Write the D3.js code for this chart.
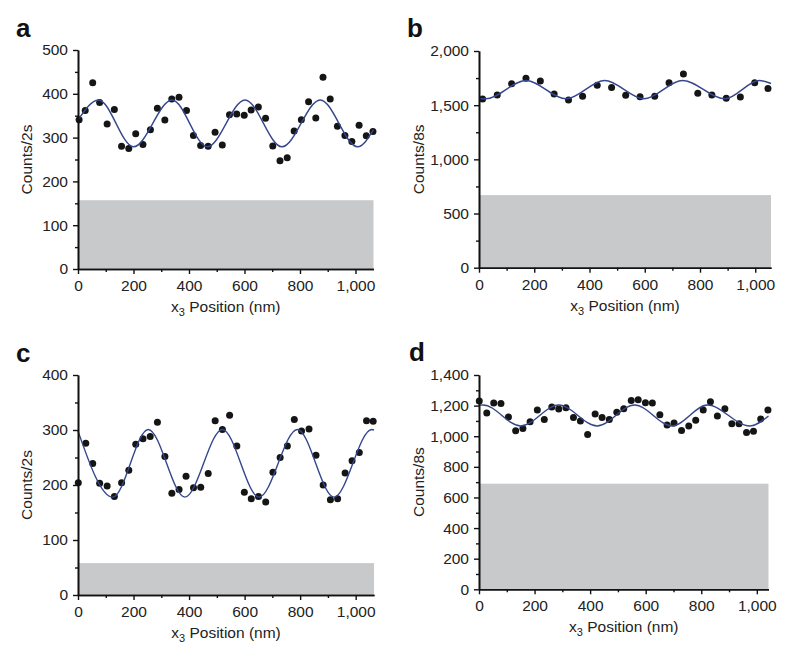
<!DOCTYPE html>
<html>
<head>
<meta charset="utf-8">
<script src="https://cdn.jsdelivr.net/npm/d3@7"></script>
<style>
  html, body { margin: 0; padding: 0; background: #fff; }
  svg { display: block; font-family: "Liberation Sans", Arial, Helvetica, sans-serif; }
</style>
</head>
<body>
<svg id="chart" width="803" height="660"></svg>
<script>
// ---------- Data ----------
// Panel a
const xA = [4,26,53,78,105,131,157,183,208,234,261,286,313,338,364,391,416,442,469,494,520,546,572,599,624,650,676,702,728,754,779,805,831,857,883,909,935,962,987,1013,1039,1063];
const yA = [341,362,425,380,331,364,280,275,309,284,318,367,340,388,392,362,305,282,280,312,283,352,354,351,363,370,344,281,247,254,315,341,382,345,438,388,326,305,291,328,304,314];
const fitAx = [0,74,200,339,466,602,735,873,1008,1065];
const fitAy = [340,386,279,386,279,386,279,386,279,318];
const yTicksA = [0,100,200,300,400,500];
const bandA = 157;

// Panel b
const xB = [13,66,118,170,222,272,324,375,428,480,531,583,636,688,740,792,843,895,946,998,1046];
const yB = [1557,1594,1698,1748,1723,1603,1548,1582,1683,1662,1591,1578,1582,1708,1788,1609,1594,1563,1575,1708,1655];
const fitBx = [0,25,170,315,455,597,737,890,1015,1057];
const fitBy = [1562,1559,1728,1559,1728,1559,1728,1559,1728,1700];
const yTicksB = [0,500,1000,1500,2000];
const bandB = 670;

// Panel c
const xC = [1,28,53,78,105,131,157,183,208,234,260,286,313,338,364,389,416,442,469,494,520,546,572,599,624,650,676,702,728,754,779,805,832,857,883,909,935,962,987,1013,1039,1063];
const yC = [204,276,239,203,198,179,204,227,274,284,288,314,252,185,192,216,195,196,221,317,301,327,271,187,175,179,169,223,250,271,319,298,302,254,200,173,175,222,244,259,317,316];
const fitCx = [0,125,253,385,520,652,790,922,1058,1066];
const fitCy = [298,178,301,178,301,178,301,178,301,300];
const yTicksC = [0,100,200,300,400];
const bandC = 58;

// Panel d
const xD = [1,28,53,79,106,132,158,184,210,235,262,287,313,340,365,391,418,443,469,496,521,548,573,599,624,651,677,702,729,755,780,807,833,858,885,910,936,963,988,1014,1040];
const yD = [1230,1152,1217,1213,1126,1036,1051,1095,1171,1110,1191,1178,1186,1123,1099,1012,1145,1123,1110,1156,1180,1234,1239,1219,1217,1141,1073,1086,1038,1067,1104,1171,1226,1132,1180,1082,1082,1025,1032,1112,1171];
const fitDx = [0,15,150,287,425,560,695,822,975,1042];
const fitDy = [1203,1204,1067,1204,1067,1204,1067,1204,1067,1132];
const yTicksD = [0,200,400,600,800,1000,1200,1400];
const bandD = 690;

const xTicks = [0,200,400,600,800,1000];
const xMinorTicks = [100,300,500,700,900];

// ---------- Layout ----------
const panels = [
  { letter:'a', xs:xA, ys:yA, fx:fitAx, fy:fitAy, ticks:yTicksA, minor:d3.range(50,500,100), band:bandA, ylab:'Counts/2s',
    xMax:1065, left:78, right:373.5, top:50, bottom:269, ylabX:32, lx:16, ly:37 },
  { letter:'b', xs:xB, ys:yB, fx:fitBx, fy:fitBy, ticks:yTicksB, minor:d3.range(250,2000,500), band:bandB, ylab:'Counts/8s',
    xMax:1057, left:479, right:771, top:51, bottom:267.7, ylabX:424, lx:407, ly:37 },
  { letter:'c', xs:xC, ys:yC, fx:fitCx, fy:fitCy, ticks:yTicksC, minor:d3.range(50,400,100), band:bandC, ylab:'Counts/2s',
    xMax:1066, left:78, right:374, top:375, bottom:595, ylabX:32, lx:16, ly:362 },
  { letter:'d', xs:xD, ys:yD, fx:fitDx, fy:fitDy, ticks:yTicksD, minor:d3.range(100,1400,200), band:bandD, ylab:'Counts/8s',
    xMax:1042, left:479, right:768.5, top:375, bottom:589.3, ylabX:424, lx:409, ly:361 }
];

const svg = d3.select('#chart');
const fmt = d3.format(',');
const FS = 15.5;

panels.forEach(p => {
  const yMax = p.ticks[p.ticks.length-1];
  const x = d3.scaleLinear().domain([0, p.xMax]).range([p.left, p.right]);
  const y = d3.scaleLinear().domain([0, yMax]).range([p.bottom, p.top]);
  const g = svg.append('g');

  // grey background band
  g.append('rect')
    .attr('x', x(0)).attr('y', y(p.band))
    .attr('width', x(p.xMax) - x(0)).attr('height', y(0) - y(p.band))
    .attr('fill', '#c8c9cb');

  // data points
  g.selectAll('circle').data(p.xs.map((d,i)=>[d,p.ys[i]])).enter().append('circle')
    .attr('cx', d=>x(d[0])).attr('cy', d=>y(d[1])).attr('r', 3.5)
    .attr('fill', '#151515');

  // fit curve
  const line = d3.line().x(d=>x(d[0])).y(d=>y(d[1])).curve(d3.curveMonotoneX);
  g.append('path').datum(p.fx.map((d,i)=>[d,p.fy[i]]))
    .attr('d', line).attr('fill','none').attr('stroke','#34468c').attr('stroke-width',1.4);

  // axes
  const yAxis = d3.axisLeft(y).tickValues(p.ticks).tickFormat(fmt).tickSize(5).tickSizeOuter(0).tickPadding(5);
  const yMinor = d3.axisLeft(y).tickValues(p.minor).tickFormat('').tickSize(3).tickSizeOuter(0);
  const xAxis = d3.axisBottom(x).tickValues(xTicks).tickFormat(fmt).tickSize(5).tickSizeOuter(0).tickPadding(6);
  const xMinor = d3.axisBottom(x).tickValues(xMinorTicks).tickFormat('').tickSize(3).tickSizeOuter(0);

  [ [yAxis, `translate(${p.left},0)`], [yMinor, `translate(${p.left},0)`],
    [xAxis, `translate(0,${p.bottom})`], [xMinor, `translate(0,${p.bottom})`] ].forEach(([ax, tr]) => {
    const a = g.append('g').attr('transform', tr).call(ax);
    a.selectAll('path.domain').attr('stroke','#111').attr('stroke-width',1.6);
    a.selectAll('line').attr('stroke','#111').attr('stroke-width',1.4);
    a.selectAll('text').attr('font-size', FS).attr('fill','#222')
      .attr('font-family','"Liberation Sans", Arial, sans-serif');
  });

  // y label
  g.append('text')
    .attr('transform', `translate(${p.ylabX},${(p.top+p.bottom)/2}) rotate(-90)`)
    .attr('text-anchor','middle').attr('font-size',FS).attr('fill','#222')
    .text(p.ylab);

  // x label with subscript
  const xl = g.append('text')
    .attr('x', (p.left + p.right)/2).attr('y', p.bottom + 43)
    .attr('text-anchor','middle').attr('font-size',FS).attr('fill','#222');
  xl.append('tspan').text('x');
  xl.append('tspan').attr('dy',4).attr('font-size',11).text('3');
  xl.append('tspan').attr('dy',-4).text(' Position (nm)');

  // panel letter
  g.append('text').attr('x', p.lx).attr('y', p.ly)
    .attr('font-size', 26).attr('font-weight','bold').attr('fill','#111')
    .text(p.letter);
});
</script>
</body>
</html>
